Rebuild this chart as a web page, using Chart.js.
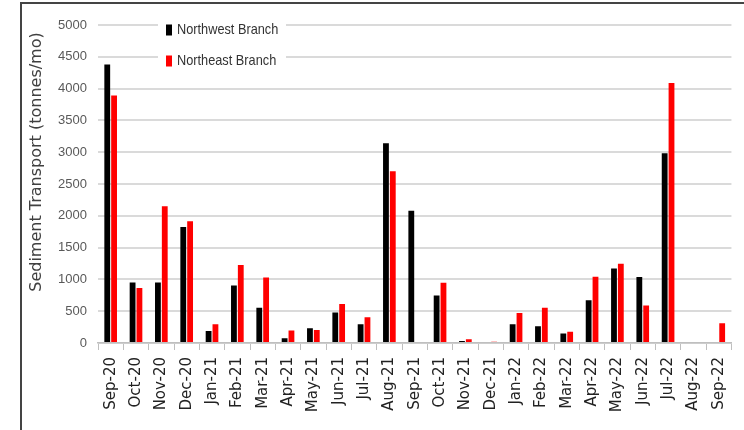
<!DOCTYPE html>
<html>
<head>
<meta charset="utf-8">
<script src="https://cdn.jsdelivr.net/npm/chart.js@4"></script>
<style>
html, body { margin: 0; padding: 0; background: #fff; }
</style>
</head>
<body>
<canvas id="myChart" width="744" height="430"></canvas>
<script>
//Daten--------------------------------------------------------------------------------------------
const labels = ["Sep-20", "Oct-20", "Nov-20", "Dec-20", "Jan-21", "Feb-21", "Mar-21", "Apr-21", "May-21",
    "Jun-21", "Jul-21", "Aug-21", "Sep-21", "Oct-21", "Nov-21", "Dec-21", "Jan-22", "Feb-22", "Mar-22",
    "Apr-22", "May-22", "Jun-22", "Jul-22", "Aug-22", "Sep-22"];
const northwest = [4380, 950, 950, 1825, 190, 905, 555, 75, 230, 480, 295, 3140, 2080, 745, 30, 0, 295, 262,
    148, 672, 1170, 1038, 2985, 0, 0];
const northeast = [3890, 865, 2150, 1915, 295, 1228, 1028, 195, 205, 613, 405, 2700, 0, 948, 60, 20, 472, 555,
    178, 1040, 1245, 588, 4090, 0, 310];
const yMin = 0;
const yMax = 5000;
const yStep = 500;
const yTitle = "Sediment Transport (tonnes/mo)";
//-------------------------------------------------------------------------------------------------

// Rahmen oben und links, wie im Original
const rahmen = {
    id: 'rahmen',
    afterDraw(chart) {
        const c = chart.ctx;
        c.save();
        c.strokeStyle = '#444';
        c.lineWidth = 2;
        c.beginPath();
        c.moveTo(21, 430);
        c.lineTo(21, 3);
        c.lineTo(744, 3);
        c.stroke();
        c.restore();
    }
};

// Achsentitel selbst zeichnen, weil er im Original nicht mittig zur Achse sitzt
const achsentitel = {
    id: 'achsentitel',
    afterDraw(chart) {
        const c = chart.ctx;
        c.save();
        c.translate(37, 162);
        c.rotate(-Math.PI / 2);
        c.font = '16px "DejaVu Sans"';
        c.fillStyle = '#404040';
        c.textAlign = 'center';
        c.textBaseline = 'middle';
        c.fillText(yTitle, 0, 0);
        c.restore();
    }
};

// Legende sitzt im Diagramm (weißer Kasten über den Gitterlinien)
const legende = {
    id: 'legende',
    afterDraw(chart) {
        const c = chart.ctx;
        c.save();
        c.fillStyle = '#fff';
        c.fillRect(158, 17, 128, 52);
        c.font = '15px "Liberation Sans"';
        c.textBaseline = 'middle';
        chart.data.datasets.forEach((ds, i) => {
            const y = 30 + i * 31;
            c.fillStyle = ds.backgroundColor;
            c.fillRect(166, y - 5.5, 6, 11);
            c.fillStyle = '#333';
            c.save();
            c.translate(177, y);
            c.scale(0.85, 1); // schmale Schrift nachmachen
            c.fillText(ds.label, 0, 0);
            c.restore();
        });
        c.restore();
    }
};

//Chart Erstellung---------------------------------------------------------
const ctx = document.getElementById('myChart').getContext('2d');
const myChart = new Chart(ctx, {
    type: 'bar',
    data: {
        labels: labels,
        datasets: [{
            label: 'Northwest Branch',
            data: northwest,
            backgroundColor: '#000000',
            barPercentage: 0.85,
            categoryPercentage: 0.54
        }, {
            label: 'Northeast Branch',
            data: northeast,
            backgroundColor: '#ff0000',
            barPercentage: 0.85,
            categoryPercentage: 0.54
        }]
    },
    options: {
        responsive: false,
        animation: false,
        layout: {
            padding: { left: 22, right: 12, top: 25, bottom: 0 }
        },
        scales: {
            x: {
                grid: {
                    drawOnChartArea: false,   // nur kleine Striche unter der Achse
                    drawTicks: true,
                    tickLength: 7,
                    color: '#bfbfbf'
                },
                border: { color: '#bfbfbf', width: 1.5 },
                ticks: {
                    minRotation: 90,
                    maxRotation: 90,
                    autoSkip: false,
                    padding: 7,
                    color: '#222',
                    font: { family: 'DejaVu Sans', size: 15 }
                },
                afterFit: (scale) => { scale.height = 87; }
            },
            y: {
                min: yMin,
                max: yMax,
                border: { display: false },
                grid: {
                    color: '#dadada',
                    lineWidth: 2,
                    drawTicks: false
                },
                ticks: {
                    stepSize: yStep,
                    padding: 11,
                    color: '#595959',
                    font: { family: 'Liberation Sans', size: 13 },
                    callback: v => String(v)   // ohne Tausenderpunkt
                },
                afterFit: (scale) => { scale.width = 76; }
            }
        },
        plugins: {
            legend: { display: false },
            tooltip: { enabled: false }
        }
    },
    plugins: [rahmen, achsentitel, legende]
});
//-----------------------------------------------------------------------
</script>
</body>
</html>
